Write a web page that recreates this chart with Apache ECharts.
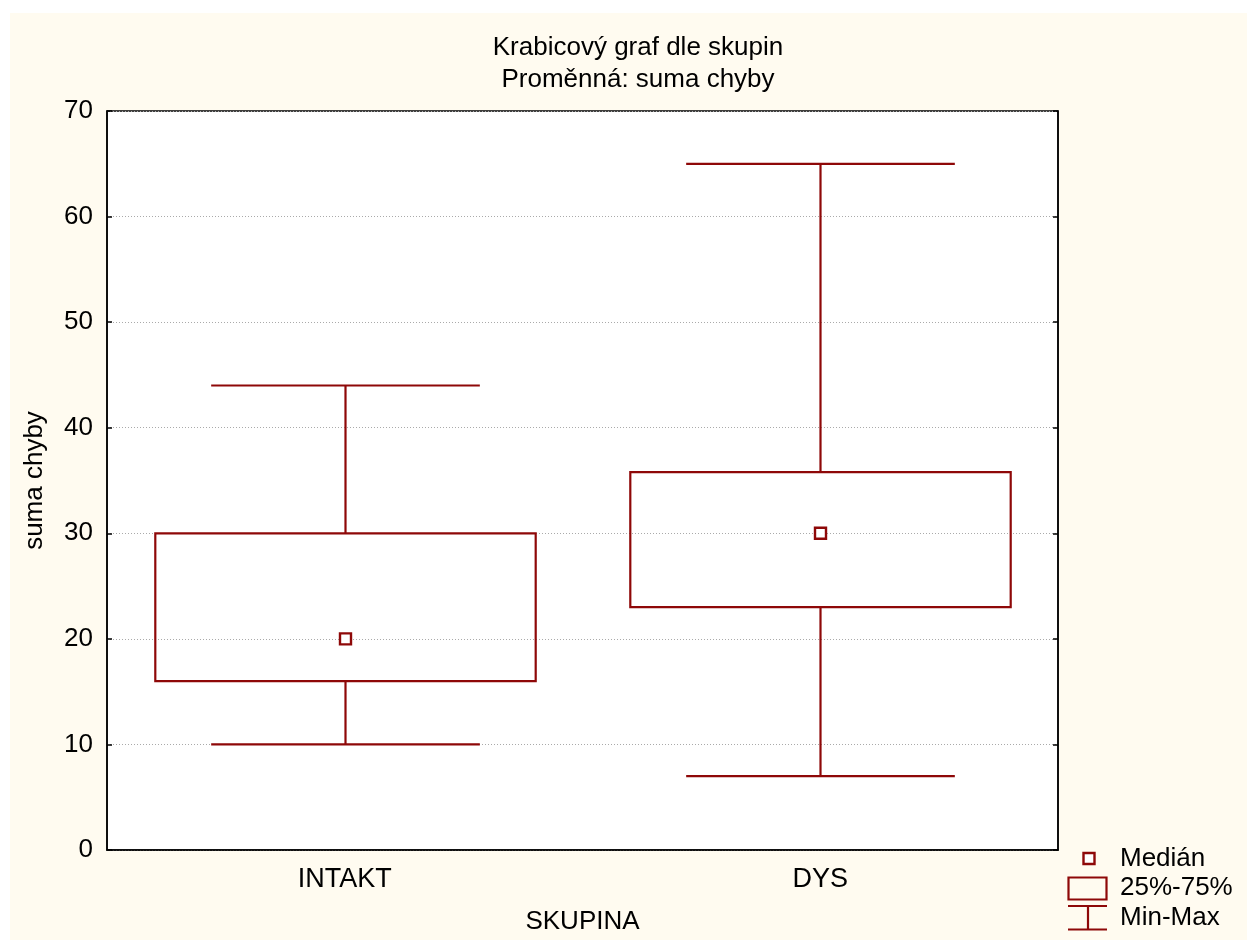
<!DOCTYPE html>
<html>
<head>
<meta charset="utf-8">
<script src="https://cdn.jsdelivr.net/npm/echarts@6/dist/echarts.min.js"></script>
<style>
html,body{margin:0;padding:0;background:#fff;}
#bg{position:absolute;left:10px;top:13px;width:1237px;height:927px;background:#FFFBF0;}
#chart{position:absolute;left:0;top:0;width:1247px;height:940px;}
</style>
</head>
<body>
<div id="bg"></div>
<div id="chart"></div>
<script>
const categories = ['INTAKT', 'DYS'];
const minValues = [10, 7];
const q1Values = [16, 23];
const medianValues = [20, 30];
const q3Values = [30, 35.8];
const maxValues = [44, 65];
const yTicks = [0, 10, 20, 30, 40, 50, 60, 70];

const RED = '#8E0808';
const FONT = '"Liberation Sans", Arial, sans-serif';
const FS = 26;

const data = categories.map((c, i) => [i, minValues[i], q1Values[i], medianValues[i], q3Values[i], maxValues[i]]);

const chart = echarts.init(document.getElementById('chart'), null, {renderer: 'canvas'});

function renderItem(params, api) {
  const idx = api.value(0);
  const band = api.size([1, 0])[0];
  const boxW = band * 0.8;
  const capW = band * 0.565;
  const pMin = api.coord([idx, api.value(1)]);
  const pQ1 = api.coord([idx, api.value(2)]);
  const pMed = api.coord([idx, api.value(3)]);
  const pQ3 = api.coord([idx, api.value(4)]);
  const pMax = api.coord([idx, api.value(5)]);
  const x = Math.round(pMin[0]) + 0.5;
  const ls = {stroke: RED, lineWidth: 2.2, fill: null};
  return {
    type: 'group',
    children: [
      {type: 'line', shape: {x1: x, y1: pMin[1], x2: x, y2: pQ1[1]}, style: ls},
      {type: 'line', shape: {x1: x, y1: pQ3[1], x2: x, y2: pMax[1]}, style: ls},
      {type: 'line', shape: {x1: x - capW / 2, y1: pMin[1], x2: x + capW / 2, y2: pMin[1]}, style: ls},
      {type: 'line', shape: {x1: x - capW / 2, y1: pMax[1], x2: x + capW / 2, y2: pMax[1]}, style: ls},
      {type: 'rect', shape: {x: x - boxW / 2, y: pQ3[1], width: boxW, height: pQ1[1] - pQ3[1]}, style: {stroke: RED, lineWidth: 2.2, fill: null}},
      {type: 'rect', shape: {x: x - 5.5, y: pMed[1] - 5.5, width: 11, height: 11}, style: {stroke: RED, lineWidth: 2.4, fill: '#fff'}}
    ]
  };
}

const option = {
  backgroundColor: 'transparent',
  animation: false,
  textStyle: {fontFamily: FONT},
  title: {
    text: 'Krabicový graf dle skupin\nProměnná: suma chyby',
    left: 633, top: 27, textAlign: 'center',
    textStyle: {fontFamily: FONT, fontSize: FS, fontWeight: 'normal', color: '#000', lineHeight: 32}
  },
  grid: {left: 107, top: 111, right: 189, bottom: 87, show: true, backgroundColor: '#fff', borderColor: '#000', borderWidth: 1.5},
  xAxis: {
    type: 'category', data: categories,
    name: 'SKUPINA', nameLocation: 'middle', nameGap: 59,
    nameTextStyle: {fontFamily: FONT, fontSize: FS, color: '#000'},
    axisLine: {lineStyle: {color: '#000', width: 1.5}},
    axisTick: {inside: true, alignWithLabel: true, length: 5, lineStyle: {color: '#000', width: 1.5}},
    axisLabel: {fontFamily: FONT, fontSize: 27, color: '#000', margin: 16},
    splitLine: {show: false}
  },
  yAxis: [{
    type: 'value', min: 0, max: 70, interval: 10,
    name: 'suma chyby', nameLocation: 'middle', nameGap: 59, nameRotate: 90,
    nameTextStyle: {fontFamily: FONT, fontSize: FS, color: '#000'},
    axisLine: {show: true, lineStyle: {color: '#000', width: 1.5}},
    axisTick: {show: true, inside: true, length: 5, lineStyle: {color: '#000', width: 1.5}},
    axisLabel: {fontFamily: FONT, fontSize: FS, color: '#000', margin: 14,
      formatter: v => yTicks.includes(v) ? String(v) : ''},
    splitLine: {show: true, lineStyle: {color: '#aaa', type: [1, 2], width: 1}}
  }, {
    type: 'value', min: 0, max: 70, interval: 10, position: 'right',
    axisLine: {show: true, lineStyle: {color: '#000', width: 1.5}},
    axisTick: {show: true, inside: true, length: 5, lineStyle: {color: '#000', width: 1.5}},
    axisLabel: {show: false},
    splitLine: {show: false}
  }],
  series: [{
    type: 'custom',
    renderItem: renderItem,
    data: data,
    encode: {x: 0, y: [1, 2, 3, 4, 5]},
    clip: false
  }],
  graphic: [
    {type: 'rect', shape: {x: 1083.5, y: 853, width: 11, height: 11}, style: {stroke: RED, lineWidth: 2.4, fill: '#fff'}},
    {type: 'rect', shape: {x: 1068.5, y: 877.5, width: 38, height: 22}, style: {stroke: RED, lineWidth: 2.2, fill: null}},
    {type: 'line', shape: {x1: 1068, y1: 906, x2: 1107, y2: 906}, style: {stroke: RED, lineWidth: 2.2}},
    {type: 'line', shape: {x1: 1068, y1: 929.5, x2: 1107, y2: 929.5}, style: {stroke: RED, lineWidth: 2.2}},
    {type: 'line', shape: {x1: 1088, y1: 906, x2: 1088, y2: 929.5}, style: {stroke: RED, lineWidth: 2.2}},
    {type: 'text', style: {x: 1120, y: 859, text: 'Medián', font: FS + 'px ' + FONT, fill: '#000', verticalAlign: 'middle'}},
    {type: 'text', style: {x: 1120, y: 888, text: '25%-75%', font: FS + 'px ' + FONT, fill: '#000', verticalAlign: 'middle'}},
    {type: 'text', style: {x: 1120, y: 918, text: 'Min-Max', font: FS + 'px ' + FONT, fill: '#000', verticalAlign: 'middle'}}
  ]
};
chart.setOption(option);
</script>
</body>
</html>
